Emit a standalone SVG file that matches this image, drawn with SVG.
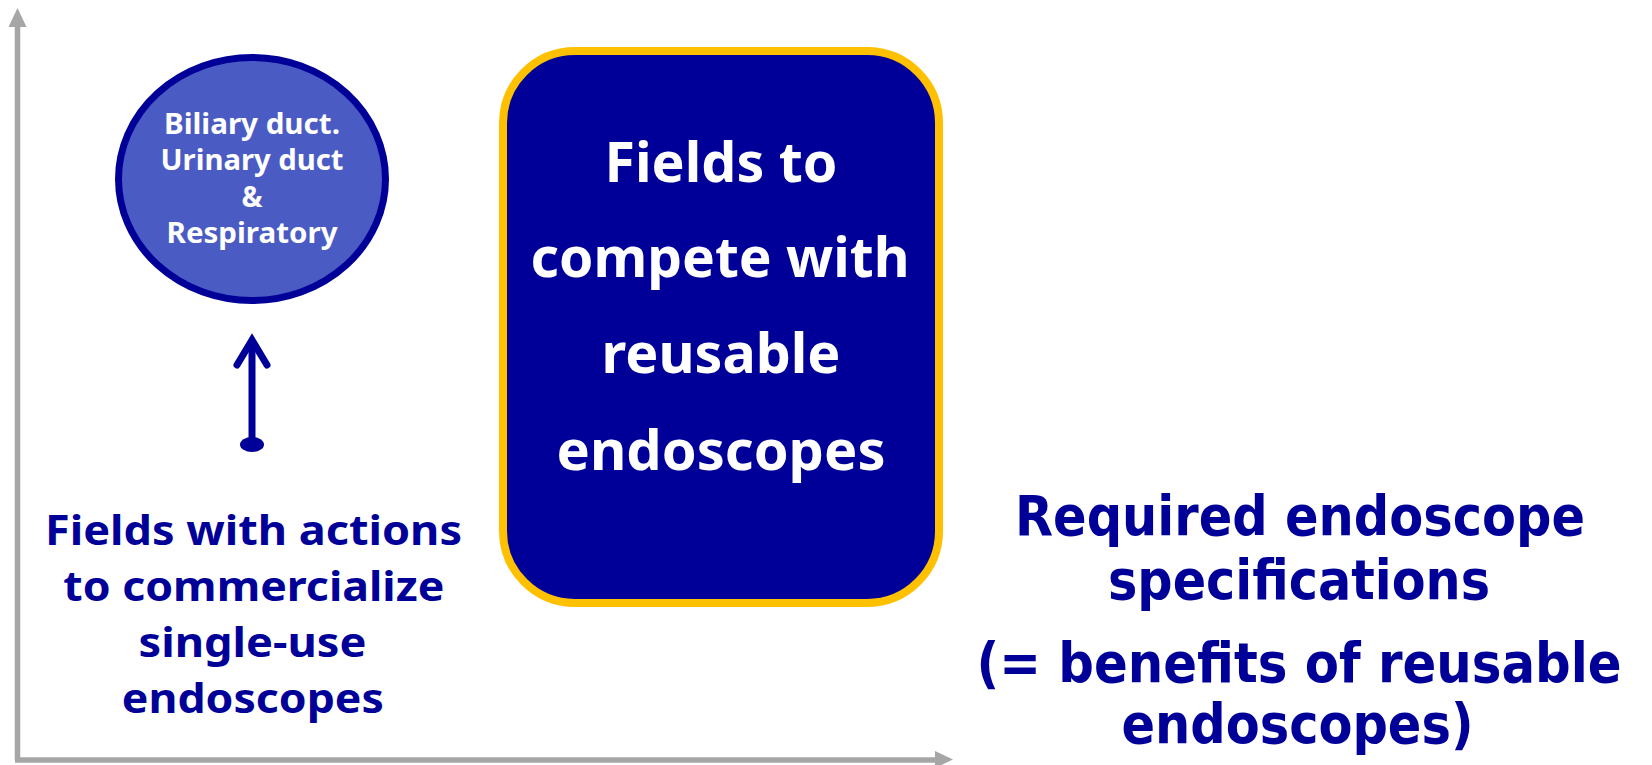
<svg xmlns="http://www.w3.org/2000/svg" width="1652" height="765" viewBox="0 0 1652 765">
<style>
.axis{stroke:#A6A6A6;stroke-width:5.5;fill:none}
.axhead{fill:#A6A6A6}
.t{font-family:"Noto Sans","DejaVu Sans",sans-serif;font-weight:bold;text-anchor:middle}
.navy{fill:#000099}
.white{fill:#FFFFFF}
.cond{font-family:"DejaVu Sans Condensed","DejaVu Sans",sans-serif;font-weight:bold;text-anchor:middle;fill:#000099}
</style>
<rect width="1652" height="765" fill="#FFFFFF"/>
<g id="connectors">
  <g id="axes">
    <line class="axis" x1="17.5" y1="760" x2="17.5" y2="24"/>
    <polygon class="axhead" points="17.5,8 8.5,27 26.5,27"/>
    <line class="axis" x1="15" y1="760" x2="937" y2="760"/>
    <polygon class="axhead" points="953,759.5 935,751 935,768"/>
  </g>
  <g id="up-arrow" stroke="#000099" stroke-width="7" fill="none">
    <line x1="252" y1="444" x2="252" y2="342" stroke-linecap="butt"/>
    <polyline points="237,365 252,340 267,365" stroke-linecap="round" stroke-linejoin="miter"/>
    <ellipse cx="252" cy="444.5" rx="12" ry="7.5" fill="#000099" stroke="none"/>
  </g>
</g>
<g id="node-circle">
  <ellipse cx="252" cy="179" rx="133.5" ry="121.5" fill="#4B5BC4" stroke="#000099" stroke-width="7"/>
  <text class="t white" font-size="28" x="252" y="134" textLength="176" lengthAdjust="spacingAndGlyphs">Biliary duct.</text>
  <text class="t white" font-size="28" x="252" y="170" textLength="183" lengthAdjust="spacingAndGlyphs">Urinary duct</text>
  <text class="t white" font-size="28" x="252" y="207">&amp;</text>
  <text class="t white" font-size="28" x="252" y="243" textLength="171" lengthAdjust="spacingAndGlyphs">Respiratory</text>
</g>
<g id="node-box">
  <rect x="503" y="51" width="436" height="552" rx="72" ry="72" fill="#000099" stroke="#FFC000" stroke-width="8"/>
  <text class="t white" font-size="56" x="721" y="181.7" textLength="233" lengthAdjust="spacingAndGlyphs">Fields to</text>
  <text class="t white" font-size="56" x="720" y="276.7" textLength="379" lengthAdjust="spacingAndGlyphs">compete with</text>
  <text class="t white" font-size="56" x="721" y="373" textLength="239" lengthAdjust="spacingAndGlyphs">reusable</text>
  <text class="t white" font-size="56" x="721" y="470" textLength="329" lengthAdjust="spacingAndGlyphs">endoscopes</text>
</g>
<g id="label-left">
  <text class="t navy" font-size="42" x="253.5" y="545" textLength="417" lengthAdjust="spacingAndGlyphs">Fields with actions</text>
  <text class="t navy" font-size="42" x="253.8" y="601" textLength="381" lengthAdjust="spacingAndGlyphs">to commercialize</text>
  <text class="t navy" font-size="42" x="252.5" y="656.7" textLength="228" lengthAdjust="spacingAndGlyphs">single-use</text>
  <text class="t navy" font-size="42" x="252.8" y="712.7" textLength="262" lengthAdjust="spacingAndGlyphs">endoscopes</text>
</g>
<g id="label-right">
  <text class="cond" font-size="55" x="1300" y="535" textLength="570" lengthAdjust="spacingAndGlyphs">Required endoscope</text>
  <text class="cond" font-size="55" x="1299" y="599" textLength="382" lengthAdjust="spacingAndGlyphs">specifications</text>
  <text class="cond" font-size="55" x="1299" y="681.7" textLength="645" lengthAdjust="spacingAndGlyphs">(= benefits of reusable</text>
  <text class="cond" font-size="55" x="1297.5" y="743.3" textLength="352" lengthAdjust="spacingAndGlyphs">endoscopes)</text>
</g>
</svg>
